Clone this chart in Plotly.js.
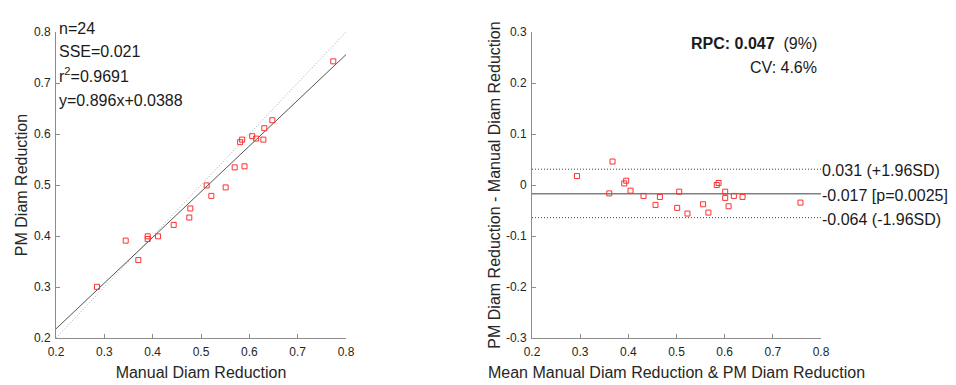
<!DOCTYPE html>
<html>
<head>
<meta charset="utf-8">
<script src="https://cdn.plot.ly/plotly-3.0.1.min.js"></script>
<style>
html,body{margin:0;padding:0;background:#fff;}
#chart{width:956px;height:385px;}
</style>
</head>
<body>
<div id="chart"></div>
<script>
// ---- Data ----
// Left panel: correlation
const manualDiamReduction = [0.7737, 0.6476, 0.6310, 0.6290, 0.6060, 0.6140, 0.5850, 0.5810,
  0.5900, 0.5697, 0.5118, 0.5214, 0.5510, 0.4779, 0.4758, 0.4435, 0.4110, 0.3897, 0.3897,
  0.3442, 0.3703, 0.2848];
const pmDiamReduction = [0.7425, 0.6270, 0.6114, 0.5890, 0.5957, 0.5910, 0.5890, 0.5840,
  0.5366, 0.5346, 0.4992, 0.4787, 0.4953, 0.4540, 0.4362, 0.4217, 0.3994, 0.3994, 0.3941,
  0.3909, 0.3528, 0.3004];
const fitSlope = 0.896;
const fitIntercept = 0.0388;
const fitRange = [0.2, 0.8];
const statsLines = ['n=24', 'SSE=0.021', 'r<sup>2</sup>=0.9691', 'y=0.896x+0.0388'];

// Right panel: Bland-Altman
const baMean = [0.2934, 0.3672, 0.3604, 0.3915, 0.3956, 0.4046, 0.4315, 0.4564, 0.4655,
  0.5014, 0.5056, 0.5228, 0.5552, 0.5662, 0.5836, 0.5873, 0.6011, 0.6011, 0.6081, 0.6191,
  0.6371, 0.7574];
const baDiff = [0.0175, 0.0460, -0.0164, 0.0031, 0.0084, -0.0111, -0.0214, -0.0390, -0.0234,
  -0.0448, -0.0131, -0.0560, -0.0378, -0.0541, 0.0000, 0.0039, -0.0131, -0.0253, -0.0417,
  -0.0214, -0.0234, -0.0345];
const meanDiff = -0.017;
const upperLoA = 0.031;
const lowerLoA = -0.064;
const limitLabels = ['0.031 (+1.96SD)', '-0.017 [p=0.0025]', '-0.064 (-1.96SD)'];
const rpcText = '<b>RPC: 0.047</b>&nbsp;&nbsp;(9%)';
const cvText = 'CV: 4.6%';

// Ticks
const xTicks = [0.2, 0.3, 0.4, 0.5, 0.6, 0.7, 0.8];
const xTickLabels = ['0.2', '0.3', '0.4', '0.5', '0.6', '0.7', '0.8'];
const y2Ticks = [-0.3, -0.2, -0.1, 0, 0.1, 0.2, 0.3];
const y2TickLabels = ['-0.3', '-0.2', '-0.1', '0', '0.1', '0.2', '0.3'];

// ---- Styling ----
const FONT = 'Liberation Sans, Arial, Helvetica, sans-serif';
const axisColor = '#8c8c8c';
const tickFont = {family: FONT, size: 12, color: '#262626'};
const titleFont = {family: FONT, size: 16, color: '#262626'};
const markerStyle = {symbol: 'square-open', size: 5, color: '#ff3030', line: {width: 1, color: '#ff3030'}};

function baseAxis(extra) {
  return Object.assign({
    showgrid: false, zeroline: false, showline: true, linecolor: axisColor, linewidth: 1,
    ticks: 'inside', ticklen: 4, tickcolor: axisColor, tickwidth: 1,
    tickfont: tickFont, automargin: false, fixedrange: true
  }, extra);
}

const traces = [
  {x: fitRange, y: fitRange, mode: 'lines', xaxis: 'x', yaxis: 'y',
   line: {color: '#a8a8a8', width: 1, dash: '1px,2px'}, hoverinfo: 'skip'},
  {x: fitRange, y: fitRange.map(v => fitSlope * v + fitIntercept), mode: 'lines', xaxis: 'x', yaxis: 'y',
   line: {color: '#555555', width: 1}, hoverinfo: 'skip'},
  {x: manualDiamReduction, y: pmDiamReduction, mode: 'markers', xaxis: 'x', yaxis: 'y', marker: markerStyle},
  {x: fitRange, y: [upperLoA, upperLoA], mode: 'lines', xaxis: 'x2', yaxis: 'y2',
   line: {color: '#444444', width: 1, dash: '1px,2px'}, hoverinfo: 'skip'},
  {x: fitRange, y: [lowerLoA, lowerLoA], mode: 'lines', xaxis: 'x2', yaxis: 'y2',
   line: {color: '#444444', width: 1, dash: '1px,2px'}, hoverinfo: 'skip'},
  {x: fitRange, y: [meanDiff, meanDiff], mode: 'lines', xaxis: 'x2', yaxis: 'y2',
   line: {color: '#808080', width: 1.5}, hoverinfo: 'skip'},
  {x: baMean, y: baDiff, mode: 'markers', xaxis: 'x2', yaxis: 'y2', marker: markerStyle}
];

// pixel helpers for annotation placement (plot area spans y 32..338)
const W = 956, TOP = 32, BOT = 338;
const px = v => v / W;
const py = v => (BOT - v) / (BOT - TOP);

const annotations = [];
const statsY = [28.7, 51, 75.3, 100.2];
statsLines.forEach((t, i) => annotations.push({
  text: t, xref: 'paper', yref: 'paper', x: px(57), y: py(statsY[i]),
  xanchor: 'left', yanchor: 'middle', showarrow: false, font: {family: FONT, size: 16, color: '#1a1a1a'}
}));
annotations.push({text: rpcText, xref: 'paper', yref: 'paper', x: px(819), y: py(43.3),
  xanchor: 'right', yanchor: 'middle', showarrow: false, font: {family: FONT, size: 16, color: '#1a1a1a'}});
annotations.push({text: cvText, xref: 'paper', yref: 'paper', x: px(819), y: py(67.5),
  xanchor: 'right', yanchor: 'middle', showarrow: false, font: {family: FONT, size: 16, color: '#1a1a1a'}});
[upperLoA, meanDiff, lowerLoA].forEach((v, i) => annotations.push({
  text: limitLabels[i], xref: 'x2', yref: 'y2', x: fitRange[1], y: v, xshift: -1, yshift: -1.5,
  xanchor: 'left', yanchor: 'middle', showarrow: false, font: {family: FONT, size: 16, color: '#1a1a1a'}
}));

const layout = {
  width: 956, height: 385,
  margin: {l: 0, r: 0, t: TOP, b: 385 - BOT, pad: 0},
  paper_bgcolor: '#ffffff', plot_bgcolor: 'rgba(0,0,0,0)',
  showlegend: false,
  font: {family: FONT},
  xaxis: baseAxis({domain: [56 / W, 346 / W], range: [0.2, 0.8], anchor: 'y',
    tickvals: xTicks, ticktext: xTickLabels, ticklabelstandoff: 3,
    title: {text: 'Manual Diam Reduction', font: titleFont, standoff: 8}}),
  yaxis: baseAxis({domain: [0, 1], range: [0.2, 0.8], anchor: 'x',
    tickvals: xTicks, ticktext: xTickLabels, ticklabelstandoff: 2,
    title: {text: 'PM Diam Reduction', font: titleFont, standoff: 2}}),
  xaxis2: baseAxis({domain: [532 / W, 821 / W], range: [0.2, 0.8], anchor: 'y2',
    tickvals: xTicks, ticktext: xTickLabels, ticklabelstandoff: 3,
    title: {text: 'Mean Manual Diam Reduction &amp; PM Diam Reduction', font: titleFont, standoff: 8}}),
  yaxis2: baseAxis({domain: [0, 1], range: [-0.3, 0.3], anchor: 'x2',
    tickvals: y2Ticks, ticktext: y2TickLabels, ticklabelstandoff: 2,
    title: {text: 'PM Diam Reduction - Manual Diam Reduction', font: titleFont, standoff: 1}}),
  annotations: annotations
};

Plotly.newPlot('chart', traces, layout, {displayModeBar: false, staticPlot: true});
</script>
</body>
</html>
